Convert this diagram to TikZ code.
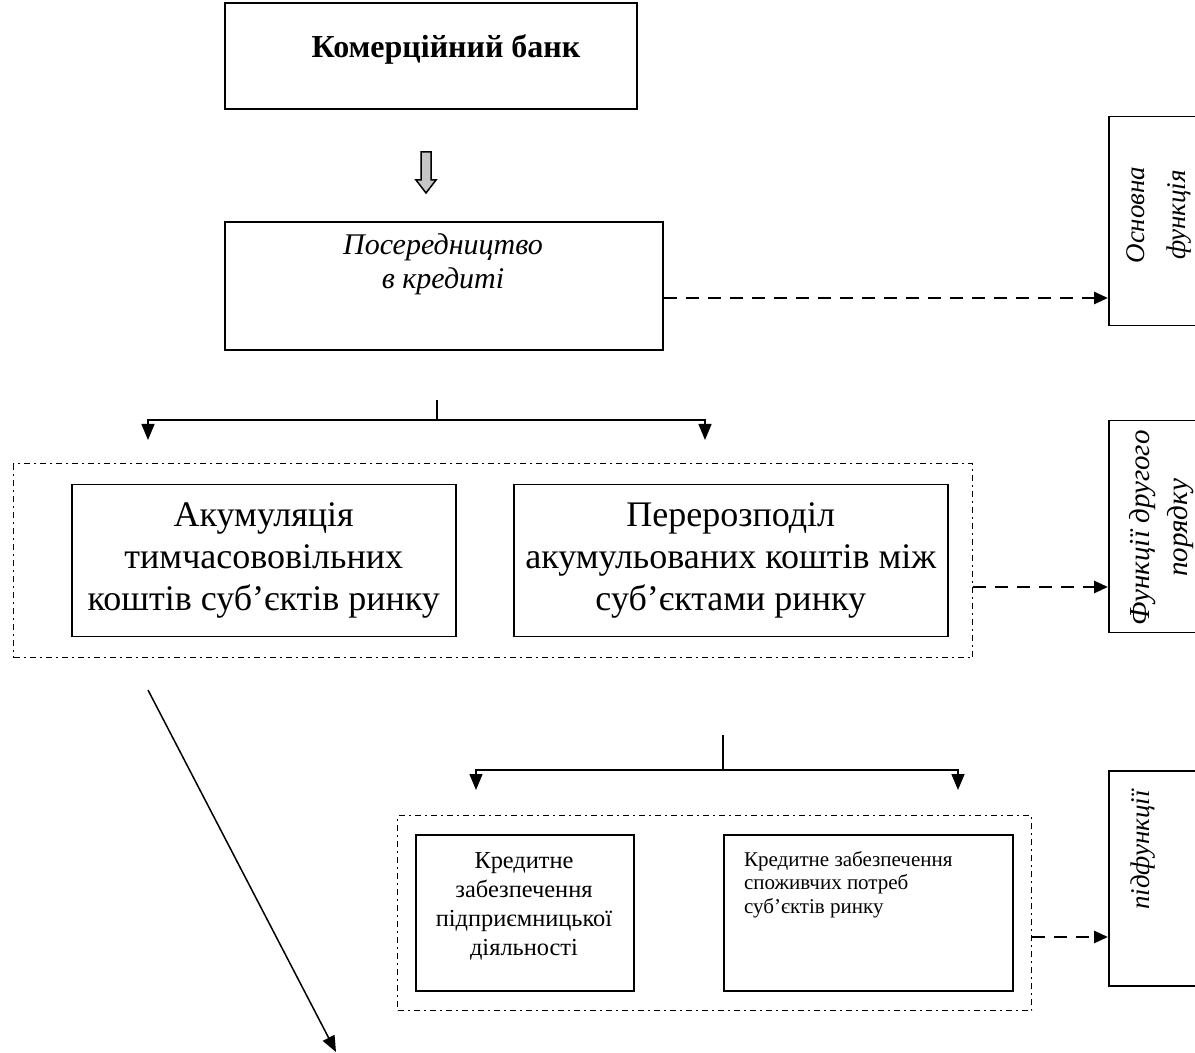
\documentclass[tikz,border=0pt]{standalone}
\usepackage{fontspec}
\setmainfont{Liberation Serif}
\usetikzlibrary{arrows.meta}
\tikzset{
  box/.style={draw,line width=0.75pt,inner sep=0pt,align=center},
  frame/.style={draw,line width=0.7pt,dash pattern=on 3pt off 2pt on 1pt off 2pt},
  tip/.style={-{Triangle[length=8pt,width=6.5pt]},line width=0.75pt},
  link/.style={-{Triangle[length=7pt,width=6pt]},line width=1.4pt,dash pattern=on 6.5pt off 4.5pt},
  side/.style={rotate=90,align=center,font=\fontsize{13.5}{20.5}\selectfont\itshape}
}
\begin{document}
\begin{tikzpicture}[x=0.5pt,y=-0.5pt]
            \useasboundingbox (0,0) rectangle (1195,1053);
            \clip (0,0) rectangle (1195,1053);
            % main boxes
            \node[box,minimum width=206pt,minimum height=53pt] (bank) at (431,56) {};
            \node[font=\fontsize{16}{19}\selectfont\bfseries] (bankt) at (446,49) {Комерційний банк};
            \draw[line width=0.75pt,fill=gray!45] (421,152)--(431,152)--(431,180)--(436,180)--(426,193)--(416,180)--(421,180)--cycle;
            \node[box,minimum width=219pt,minimum height=64pt] (credit) at (444,286) {};
            \node[align=center,font=\fontsize{15}{17}\selectfont\itshape] (creditt) at (443,264) {Посередництво\\в кредиті};
            % right column
            \node[box,minimum width=50pt,minimum height=104.5pt,anchor=north west] (f1) at (1108,116) {};
            \node[side] (f1t) at (1159,215) {Основна\\функція};
            \node[box,minimum width=50pt,minimum height=106pt,anchor=north west] (f2) at (1108,420) {};
            \node[side,font=\fontsize{14.5}{19}\selectfont\itshape] (f2t) at (1162,528) {Функції другого\\порядку};
            \node[box,minimum width=50pt,minimum height=107.5pt,anchor=north west] (f3) at (1108,770) {};
            \node[side] (f3t) at (1143,850) {підфункції};
            % second level
            \node[frame,minimum width=479.5pt,minimum height=97pt,anchor=north west] (grp1) at (13,463) {};
            \node[box,minimum width=192pt,minimum height=76pt,anchor=north west,font=\fontsize{18}{21}\selectfont] (acc) at (71,484) {Акумуляція\\тимчасововільних\\коштів суб’єктів ринку};
            \node[box,minimum width=217pt,minimum height=76pt,anchor=north west,font=\fontsize{18}{21}\selectfont] (redis) at (513,484) {Перерозподіл\\акумульованих коштів між\\суб’єктами ринку};
            % third level
            \node[frame,minimum width=317pt,minimum height=97.5pt,anchor=north west] (grp2) at (397,815) {};
            \node[box,minimum width=109pt,minimum height=78pt,anchor=north west] (biz) at (415,834) {};
            \node[align=center,font=\fontsize{12.2}{14.5}\selectfont] (bizt) at (524,906) {Кредитне\\забезпечення\\підприємницької\\діяльності};
            \node[box,minimum width=144.5pt,minimum height=78pt,anchor=north west] (cons) at (723,834) {};
            \node[align=left,anchor=north west,font=\fontsize{10.5}{11.75}\selectfont] (const) at (737,844) {Кредитне забезпечення\\споживчих потреб\\суб’єктів ринку};
            % tree connectors
            \coordinate (s1) at (437,400);
            \coordinate (j1) at (437,420);
            \coordinate (l1) at (148,440);
            \coordinate (r1) at (705,440);
            \draw[line width=0.75pt] (s1)--(j1);
            \draw[tip] (j1) -| (l1);
            \draw[tip] (j1) -| (r1);
            \coordinate (s2) at (723,735);
            \coordinate (j2) at (723,770);
            \coordinate (l2) at (476,790);
            \coordinate (r2) at (958,790);
            \draw[line width=0.75pt] (s2)--(j2);
            \draw[tip] (j2) -| (l2);
            \draw[tip] (j2) -| (r2);
            % diagonal
            \coordinate (d0) at (148,690);
            \coordinate (d1) at (336,1052);
            \draw[tip] (d0)--(d1);
            % dashed links
            \draw[link] (credit.east |- 0,298) -- (f1.west |- 0,298);
            \draw[link] (grp1.east |- 0,587) -- (f2.west |- 0,587);
            \draw[link] (grp2.east |- 0,937) -- (f3.west |- 0,937);
        \end{tikzpicture}
\end{document}
